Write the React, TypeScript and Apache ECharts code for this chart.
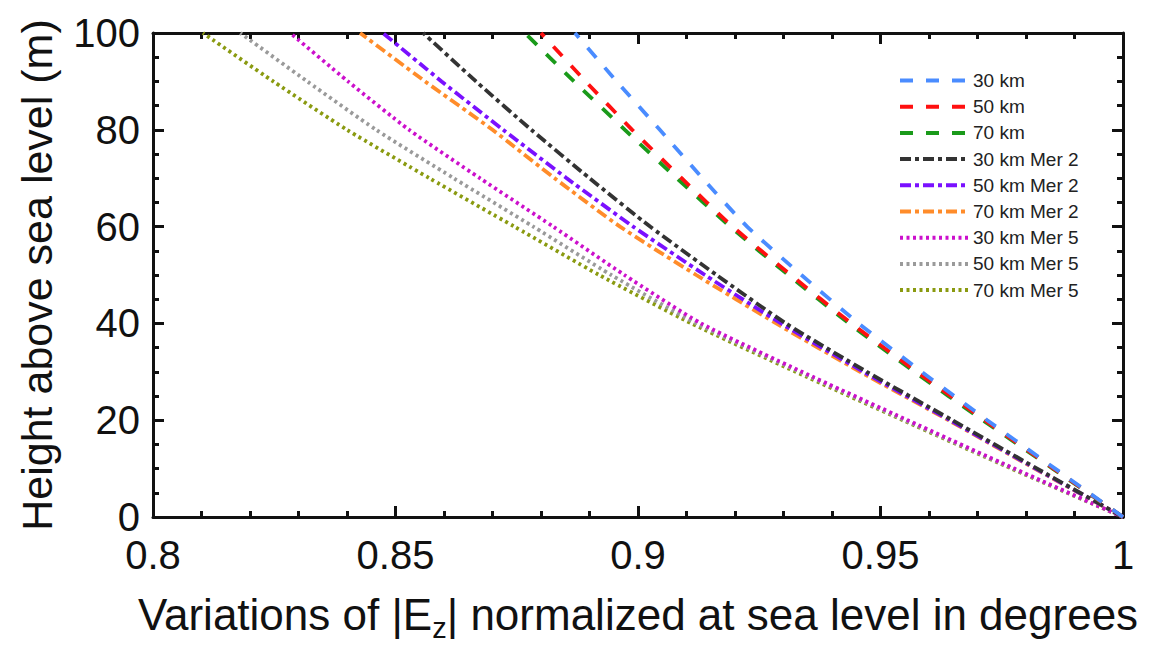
import React, { useEffect, useRef } from "react";
import * as echarts from "echarts";

const heights = [0, 10, 20, 30, 40, 50, 60, 70, 80, 90, 100];

const seriesNames = [
  "30 km",
  "50 km",
  "70 km",
  "30 km Mer 2",
  "50 km Mer 2",
  "70 km Mer 2",
  "30 km Mer 5",
  "50 km Mer 5",
  "70 km Mer 5",
];

const km30 = [1, 0.986, 0.972, 0.9585, 0.9455, 0.9337, 0.9225, 0.9133, 0.9045, 0.8956, 0.887];
const km50 = [1, 0.9857, 0.9715, 0.9575, 0.944, 0.9315, 0.9195, 0.909, 0.8988, 0.8892, 0.88];
const km70 = [1, 0.9855, 0.9711, 0.957, 0.9435, 0.931, 0.919, 0.908, 0.8973, 0.8868, 0.8767];
const km30Mer2 = [1, 0.9823, 0.9648, 0.9472, 0.9305, 0.9162, 0.9025, 0.89, 0.878, 0.8666, 0.8557];
const km50Mer2 = [1, 0.982, 0.9643, 0.9465, 0.9295, 0.9138, 0.899, 0.8853, 0.8722, 0.8595, 0.8474];
const km70Mer2 = [1, 0.9818, 0.964, 0.9458, 0.9285, 0.912, 0.8963, 0.8828, 0.87, 0.8561, 0.8427];
const km30Mer5 = [1, 0.9776, 0.9556, 0.9338, 0.913, 0.8972, 0.8825, 0.8674, 0.8528, 0.8402, 0.8283];
const km50Mer5 = [1, 0.9773, 0.955, 0.9333, 0.912, 0.8945, 0.8784, 0.862, 0.846, 0.8318, 0.818];
const km70Mer5 = [1, 0.977, 0.9546, 0.9325, 0.911, 0.892, 0.8745, 0.857, 0.84, 0.8248, 0.8103];

const seriesValues = [
  km30, km50, km70, km30Mer2, km50Mer2, km70Mer2, km30Mer5, km50Mer5, km70Mer5,
];

const colors = [
  "#4a8cff", "#ff1010", "#1a9a1a",
  "#333333", "#7a10ff", "#ff8c2a",
  "#cc10cc", "#9a9a9a", "#8a9a10",
];

const dashStyle = [13, 13];
const dashDotStyle = [11, 4, 4, 4];
const dotStyle = [3, 3.5];
const lineTypes = [
  dashStyle, dashStyle, dashStyle,
  dashDotStyle, dashDotStyle, dashDotStyle,
  dotStyle, dotStyle, dotStyle,
];

const FONT = "'Liberation Sans', Arial, Helvetica, sans-serif";

export default function App() {
  const ref = useRef<HTMLDivElement>(null);
  useEffect(() => {
    if (!ref.current) return;
    const chart = echarts.init(ref.current, undefined, { renderer: "svg" });
    const axisLine = { show: true, onZero: false, lineStyle: { color: "#111", width: 3 } };
    const tickCommon = { show: true, inside: true, lineStyle: { color: "#111", width: 3 } };
    const minorTick = { show: true, splitNumber: 5, length: 6, lineStyle: { color: "#111", width: 3 } };
    const minorTickY = { show: true, splitNumber: 4, length: 6, lineStyle: { color: "#111", width: 3 } };
    const series = seriesNames.map((name, i) => ({
      name,
      type: "line",
      xAxisIndex: 0,
      yAxisIndex: 0,
      data: heights.map((h, j) => [seriesValues[i][j], h]),
      symbol: "none",
      smooth: 0.2,
      lineStyle: { color: colors[i], width: 3.8, type: lineTypes[i] },
      itemStyle: { color: colors[i] },
      z: 10 - i,
    }));
    chart.setOption({
      animation: false,
      textStyle: { fontFamily: FONT },
      grid: { left: 153, right: 36, top: 33, bottom: 136, containLabel: false },
      legend: {
        show: true,
        orient: "vertical",
        left: 898,
        top: 71,
        padding: 0,
        itemWidth: 68,
        itemHeight: 14,
        itemGap: 7.2,
        data: seriesNames,
        itemStyle: { opacity: 0 },
        lineStyle: { width: 4 },
        textStyle: { fontFamily: FONT, fontSize: 19, color: "#222" },
      },
      xAxis: [
        {
          type: "value",
          min: 0.8,
          max: 1,
          interval: 0.05,
          position: "bottom",
          axisLine,
          axisTick: { ...tickCommon, length: 11 },
          minorTick,
          splitLine: { show: false },
          axisLabel: { fontSize: 40, color: "#111", margin: 18, fontFamily: FONT },
          name: "Variations of |E{sub|z}| normalized at sea level in degrees",
          nameLocation: "middle",
          nameGap: 70,
          nameTextStyle: {
            fontSize: 44,
            color: "#111",
            fontFamily: FONT,
            rich: {
              sub: { fontSize: 29, color: "#111", fontFamily: FONT, padding: [26, 0, 0, 0] },
            },
          },
        },
        {
          type: "value",
          min: 0.8,
          max: 1,
          interval: 0.05,
          position: "top",
          axisLine,
          axisTick: { ...tickCommon, length: 11 },
          minorTick,
          splitLine: { show: false },
          axisLabel: { show: false },
        },
      ],
      yAxis: [
        {
          type: "value",
          min: 0,
          max: 100,
          interval: 20,
          position: "left",
          axisLine,
          axisTick: { ...tickCommon, length: 11 },
          minorTick: minorTickY,
          splitLine: { show: false },
          axisLabel: { fontSize: 40, color: "#111", margin: 13, fontFamily: FONT },
          name: "Height above sea level (m)",
          nameLocation: "middle",
          nameGap: 95,
          nameTextStyle: { fontSize: 43, color: "#111", fontFamily: FONT },
        },
        {
          type: "value",
          min: 0,
          max: 100,
          interval: 20,
          position: "right",
          axisLine,
          axisTick: { ...tickCommon, length: 11 },
          minorTick: minorTickY,
          splitLine: { show: false },
          axisLabel: { show: false },
        },
      ],
      series,
    });
    return () => chart.dispose();
  }, []);
  return <div ref={ref} style={{ width: 1159, height: 653, position: "absolute", left: 0, top: 0 }} />;
}
